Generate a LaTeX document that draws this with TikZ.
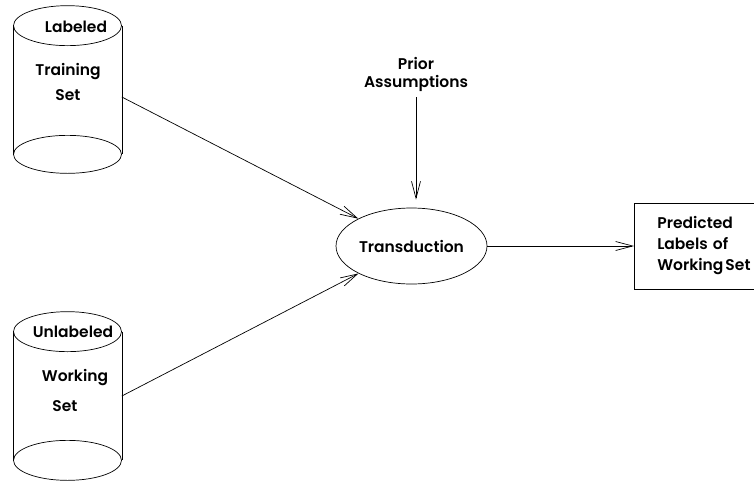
\documentclass[tikz,border=0pt]{standalone}
\usepackage{fontspec}
\setmainfont{Poppins}[BoldFont={Poppins SemiBold}]
\usetikzlibrary{positioning,arrows.meta,shapes.geometric}

\begin{document}
\begin{tikzpicture}[x=1pt, y=-1pt, line width=0.7pt,
  every node/.style={font=\fontsize{15.5}{18}\selectfont\bfseries},
  cyl/.style={minimum width=108pt, minimum height=128pt, inner sep=0pt},
  arr/.style={-{Straight Barb[length=17pt, width=9pt]}}]
  \clip (0,0) rectangle (754,480);

  \node[cyl] (train) at (67.5,90) {};
  \node[cyl] (work) at (67.5,396) {};
  \draw (train.north west) -- (train.south west) (train.north east) -- (train.south east);
  \draw (train.north) ellipse [x radius=54pt, y radius=20pt];
  \draw (train.south) ellipse [x radius=54pt, y radius=19pt];
  \draw (work.north west) -- (work.south west) (work.north east) -- (work.south east);
  \draw (work.north) ellipse [x radius=54pt, y radius=20pt];
  \draw (work.south) ellipse [x radius=54pt, y radius=20pt];

  \node (t1) at (76,27) {Labeled};
  \node (t2) at (68,72) {Training};
  \node (t3) at (68,95) {Set};
  \node (w1) at (73,332) {Unlabeled};
  \node (w2) at (75,378) {Working};
  \node (w3) at (65,406) {Set};

  \node[draw, ellipse, minimum width=151pt, minimum height=76pt, inner sep=0pt] (trans) at (411.5,246) {Transduction};
  \node[align=center, inner sep=2pt] (prior) at (416,74) {Prior\\Assumptions};
  \node[draw, anchor=west, text width=100pt, align=left, inner xsep=23pt, minimum height=86pt] (pred) at (634,246) {Predicted\\[3pt]Labels of\\[3pt]Working\hspace{2pt}Set};

  \draw[arr] ([yshift=-7pt]train.east) -- (trans);
  \draw[arr] (work.east) -- (trans);
  \draw[arr, shorten >=8pt] (prior.south |- 0,97) -- (prior.south |- trans.north);
  \draw[arr] (trans) -- (pred);
\end{tikzpicture}
\end{document}
